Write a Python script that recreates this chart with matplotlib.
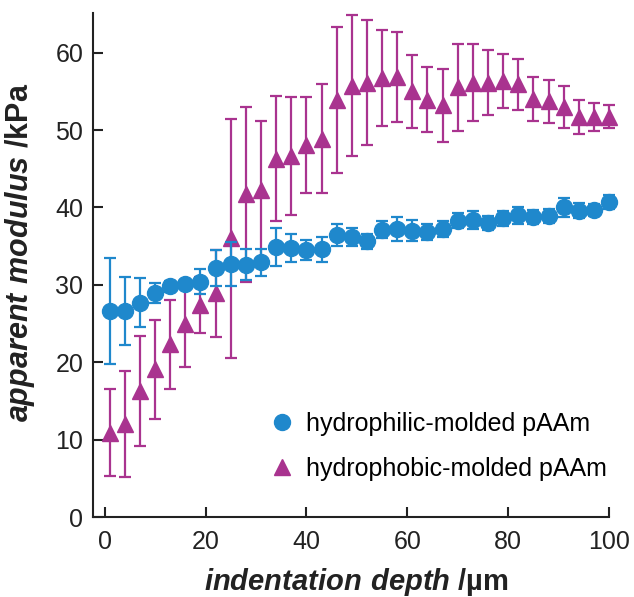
import matplotlib
matplotlib.use("Agg")
import matplotlib.pyplot as plt

plt.rcParams['font.family'] = ['Liberation Sans', 'DejaVu Sans']
plt.rcParams['mathtext.fontset'] = 'custom'
plt.rcParams['mathtext.bfit'] = 'Liberation Sans:bold:italic'
plt.rcParams['mathtext.rm'] = 'Liberation Sans'

BLUE = "#1f88cc"
MAGENTA = "#a9338f"

# indentation depth (um)
depth = [1, 4, 7, 10, 13, 16, 19, 22, 25, 28, 31, 34, 37, 40, 43, 46, 49,
         52, 55, 58, 61, 64, 67, 70, 73, 76, 79, 82, 85, 88, 91, 94, 97, 100]

# hydrophilic-molded pAAm (kPa)
philic = [26.6, 26.6, 27.7, 28.9, 29.8, 30.1, 30.4, 32.2, 32.7, 32.6, 32.9,
          34.9, 34.7, 34.5, 34.6, 36.4, 36.2, 35.6, 37.1, 37.2, 37.0, 36.8,
          37.2, 38.3, 38.4, 38.0, 38.6, 39.0, 38.8, 38.9, 40.0, 39.6, 39.7, 40.7]
philic_err = [6.8, 4.4, 3.2, 1.3, 0.7, 0.5, 1.6, 2.3, 2.8, 2.0, 1.7,
              2.5, 1.8, 1.3, 1.6, 1.4, 1.2, 1.0, 1.1, 1.6, 1.4, 1.0,
              1.0, 1.0, 1.2, 0.9, 1.0, 1.1, 0.9, 0.9, 1.2, 1.0, 0.8, 0.9]

# hydrophobic-molded pAAm (kPa)
phobic = [10.9, 12.0, 16.3, 19.1, 22.3, 25.0, 27.4, 28.9, 36.0, 41.7, 42.3,
          46.3, 46.6, 48.0, 48.9, 53.9, 55.7, 56.1, 56.7, 56.8, 55.0, 53.9,
          53.2, 55.5, 56.1, 56.1, 56.3, 55.9, 54.0, 53.7, 53.0, 51.7, 51.7, 51.7]
phobic_err = [5.6, 6.8, 7.1, 6.4, 5.8, 5.6, 3.6, 5.6, 15.4, 11.3, 8.9,
              8.1, 7.6, 6.2, 7.1, 9.4, 9.1, 8.1, 6.2, 5.8, 4.7, 4.2,
              4.7, 5.6, 5.0, 4.2, 3.5, 3.3, 2.9, 2.8, 2.7, 2.2, 1.8, 1.5]

fig = plt.figure(figsize=(6.34, 5.97), dpi=100)
ax = fig.add_axes([0.1467, 0.134, 0.814, 0.844])

eb2 = ax.errorbar(depth, phobic, yerr=phobic_err, fmt='^', color=MAGENTA,
                  ms=12, elinewidth=1.6, capsize=4.5, capthick=1.6,
                  label='hydrophobic-molded pAAm', zorder=2)
eb1 = ax.errorbar(depth, philic, yerr=philic_err, fmt='o', color=BLUE,
                  ms=11.5, elinewidth=1.6, capsize=4.5, capthick=1.6,
                  label='hydrophilic-molded pAAm', zorder=3)
for eb in (eb1, eb2):
    for art in eb.get_children():
        art.set_clip_on(False)

ax.set_xlim(-2.3, 100)
ax.set_ylim(0, 65.1)
ax.set_xticks([0, 20, 40, 60, 80, 100])
ax.set_yticks([0, 10, 20, 30, 40, 50, 60])

for side in ['top', 'right']:
    ax.spines[side].set_visible(False)
for side in ['left', 'bottom']:
    ax.spines[side].set_linewidth(1.5)
    ax.spines[side].set_color('#222222')

ax.tick_params(direction='in', length=7, width=1.5, labelsize=18,
               colors='#222222', labelcolor='#222222')
ax.tick_params(axis='x', pad=9)
ax.tick_params(axis='y', pad=7)

ax.set_xlabel(r'$\mathbfit{indentation\ depth}$ /µm', fontsize=21,
              fontweight='bold', color='#222222')
ax.set_ylabel(r'$\mathbfit{apparent\ modulus}$ /kPa', fontsize=22,
              fontweight='bold', color='#222222')
ax.xaxis.set_label_coords(0.51, -0.098)
ax.yaxis.set_label_coords(-0.109, 0.526)
ax.xaxis.label.set_va('top')

# legend shows the markers only
ax.legend(handles=[eb1[0], eb2[0]],
          labels=['hydrophilic-molded pAAm', 'hydrophobic-molded pAAm'],
          loc='center left', bbox_to_anchor=(0.342, 0.14),
          frameon=False, fontsize=18, handlelength=1.0, handletextpad=0.45,
          labelspacing=0.85, borderpad=0, borderaxespad=0)

fig.savefig('out.png', dpi=100)
